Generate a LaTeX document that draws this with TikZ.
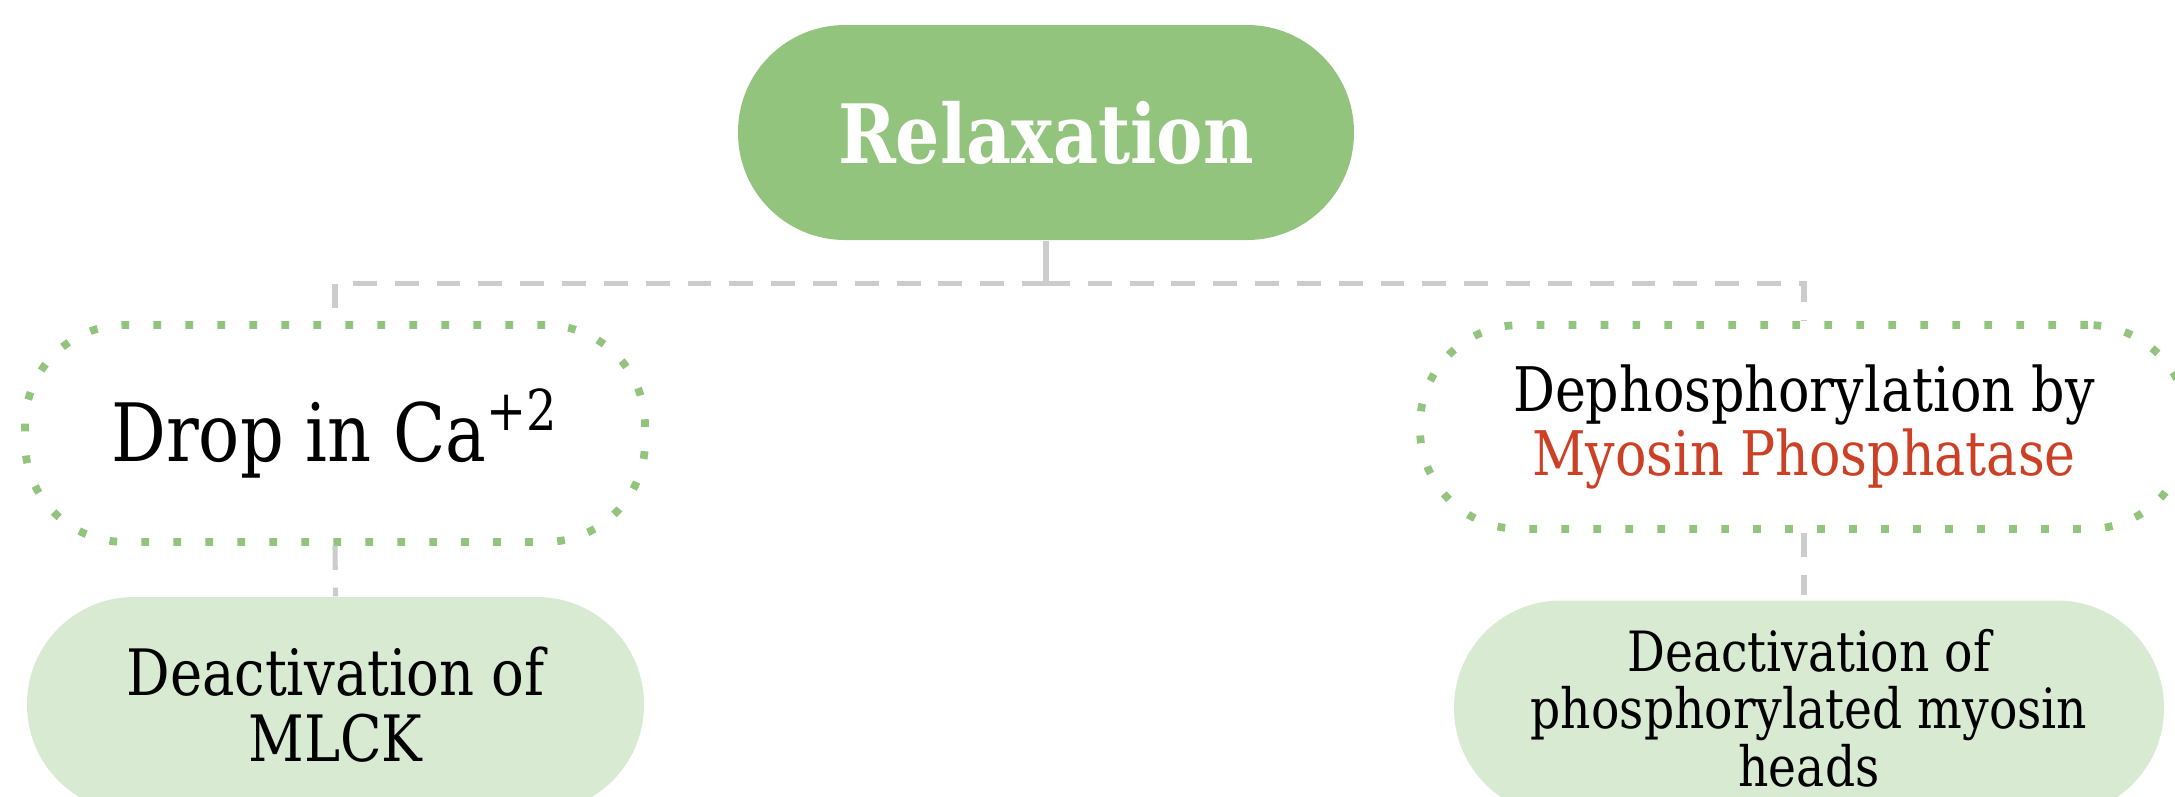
\documentclass[tikz,border=0pt]{standalone}
\usepackage{fontspec}
\setmainfont{DejaVu Serif}[FakeStretch=0.85]
\usepackage{xcolor}
\usepackage{tikz}
\definecolor{leaf}{HTML}{93C47D}
\definecolor{pale}{HTML}{D9EAD3}
\definecolor{berry}{HTML}{CC4125}
\definecolor{rule}{HTML}{CCCCCC}

\begin{document}
\begin{tikzpicture}[x=1cm,y=1cm,
  head/.style={fill=leaf,text=white,rounded corners=1.07cm,
    minimum width=6.16cm,minimum height=2.15cm,
    font=\fontsize{23.3}{27}\selectfont\bfseries},
  cause/.style={draw=leaf,line width=2.2pt,dash pattern=on 2.2pt off 6.9pt,
    rounded corners=1cm,align=center},
  effect/.style={fill=pale,rounded corners=1.07cm,align=center,
    minimum height=2.15cm},
  link/.style={draw=rule,line width=1.45pt,dash pattern=on 6.8pt off 5.1pt}]
\useasboundingbox (0,0) rectangle (21.75,-7.96);

\node[head] (relax) at (10.46,-1.325) {Relaxation};

\node[cause,minimum width=6.2cm,minimum height=2.17cm,
  font=\fontsize{22.9}{26}\selectfont] (drop) at (3.35,-4.335)
  {Drop in Ca\textsuperscript{+2}};
\node[cause,minimum width=7.68cm,minimum height=2.04cm,
  font=\fontsize{17.5}{18.2}\selectfont] (deph) at (18.04,-4.27)
  {Dephosphorylation by\\\textcolor{berry}{Myosin Phosphatase}};

\node[effect,minimum width=6.17cm,font=\fontsize{18.2}{18.8}\selectfont]
  (mlck) at (3.355,-7.045) {Deactivation of\\MLCK};
\node[effect,minimum width=7.1cm,font=\fontsize{15.8}{16.4}\selectfont]
  (heads) at (18.09,-7.08)
  {Deactivation of\\phosphorylated myosin\\heads};

\draw[link,solid] (relax.south) -- ++(0,-0.43) coordinate (bus);
\draw[link] (bus) -| (drop.north);
\draw[link] (bus) -| (deph.north);
\draw[link] (drop.south) -- (mlck.north);
\draw[link] (deph.south) -- ++(0,-0.62);
\end{tikzpicture}
\end{document}
